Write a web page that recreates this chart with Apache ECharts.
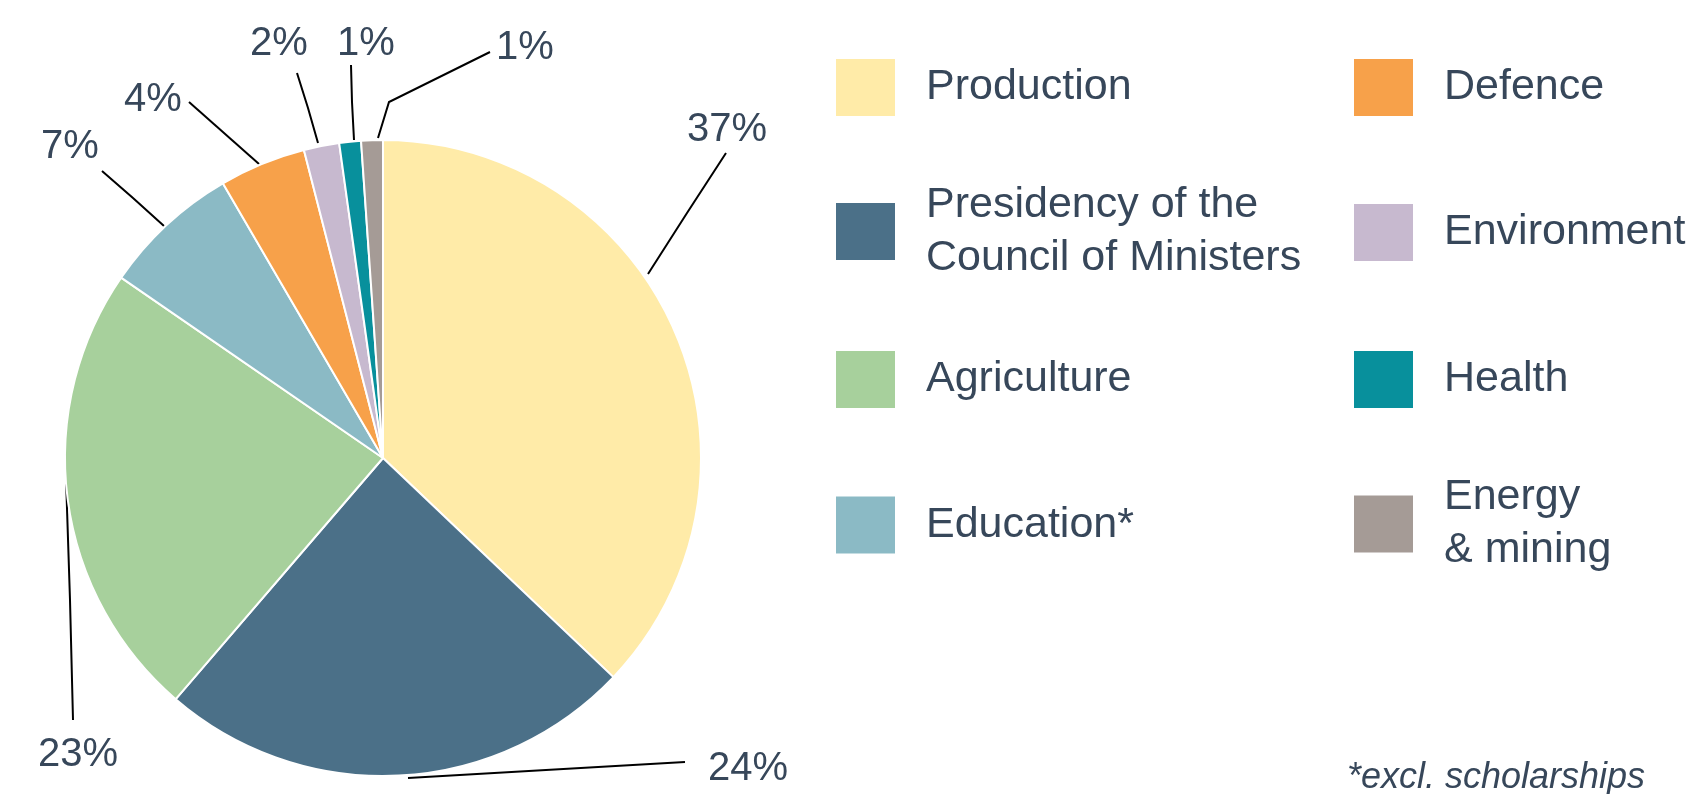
<!DOCTYPE html>
<html><head><meta charset="utf-8">
<script src="https://cdn.jsdelivr.net/npm/echarts@6/dist/echarts.min.js"></script>
<style>html,body{margin:0;padding:0;background:#fff}#c{width:1705px;height:794px}</style>
</head><body><div id="c"></div>
<script>
// ---- data ----
const categories = ['Production', 'Presidency of the Council of Ministers', 'Agriculture', 'Education*', 'Defence', 'Environment', 'Health', 'Energy & mining'];
const shares = [37.1, 24.2, 23.3, 7.0, 4.4, 1.8, 1.1, 1.1];
const shareLabels = ['37%', '24%', '23%', '7%', '4%', '2%', '1%', '1%'];
const footnote = '*excl. scholarships';

// ---- styles / layout ----
const colors = ['#FFEBA8', '#4B7088', '#A7D09C', '#8BBAC5', '#F7A14A', '#C7B9CF', '#08909C', '#A59B96'];
const textColor = '#37475A';
const legendWrap = {
  'Presidency of the Council of Ministers': 'Presidency of the\nCouncil of Ministers',
  'Energy & mining': 'Energy\n& mining'
};
// label anchor (text centre) and leader-line points, in px
const labelLayoutTable = [
  { at: [727, 130], line: [[648, 274], [687, 213], [726, 153]] },
  { at: [748, 769], line: [[408, 778], [546, 770], [685, 762]] },
  { at: [78, 755],  line: [[66, 478], [70, 600], [73, 720]] },
  { at: [70, 147],  line: [[164, 226], [133, 198], [102, 171]] },
  { at: [153, 100], line: [[259, 164], [224, 133], [189, 102]] },
  { at: [279, 44],  line: [[318, 143], [308, 108], [297, 73]] },
  { at: [366, 44],  line: [[354, 140], [352, 102], [351, 65]] },
  { at: [525, 48],  line: [[378, 138], [389, 102], [490, 52]] }
];
const legendCols = [834, 1352];
const legendRowCenters = [86.5, 231.5, 378.5, 524];

const legends = categories.map((name, i) => {
  const col = i < 4 ? 0 : 1, row = i % 4;
  const two = !!legendWrap[name];
  return {
    data: [name],
    left: legendCols[col],
    top: legendRowCenters[row] - (two ? 53 : 29.5),
    padding: 0,
    icon: 'rect',
    itemWidth: 61,
    itemHeight: 59,
    selectedMode: false,
    formatter: n => legendWrap[n] || n,
    textStyle: {
      fontFamily: 'Liberation Sans',
      fontSize: 43,
      lineHeight: 53,
      color: textColor,
      padding: [0, 0, 0, 25]
    }
  };
});

const chart = echarts.init(document.getElementById('c'));
chart.setOption({
  animation: false,
  color: colors,
  title: {
    text: footnote,
    right: 60,
    top: 758,
    padding: 0,
    textStyle: { fontFamily: 'Liberation Sans', fontStyle: 'italic', fontWeight: 'normal', fontSize: 36, lineHeight: 40, color: textColor }
  },
  legend: legends,
  series: [{
    type: 'pie',
    center: [383, 458],
    radius: [0, 318],
    startAngle: 90,
    clockwise: true,
    avoidLabelOverlap: false,
    data: categories.map((name, i) => ({ name, value: shares[i] })),
    itemStyle: { borderColor: '#ffffff', borderWidth: 2 },
    label: {
      show: true,
      position: 'outside',
      overflow: 'none',
      formatter: p => shareLabels[p.dataIndex],
      fontFamily: 'Liberation Sans',
      fontSize: 40,
      color: textColor
    },
    labelLine: { show: true, lineStyle: { color: '#000000', width: 2 }, length: 1, length2: 1 },
    labelLayout: p => {
      const L = labelLayoutTable[p.dataIndex];
      return { x: L.at[0], y: L.at[1], align: 'center', verticalAlign: 'middle', labelLinePoints: L.line };
    },
    emphasis: { disabled: true }
  }]
});
</script></body></html>
